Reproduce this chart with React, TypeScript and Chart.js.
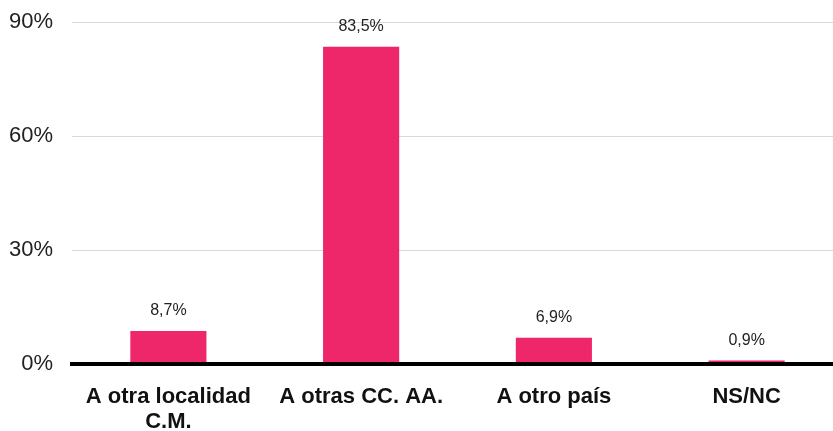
import React, { useEffect, useRef } from "react";
import { Chart, registerables } from "chart.js";

Chart.register(...registerables);

const categories: (string | string[])[] = [["A otra localidad", "C.M."], "A otras CC. AA.", "A otro país", "NS/NC"];
const values: number[] = [8.7, 83.5, 6.9, 0.9];
const yTicks: number[] = [0, 30, 60, 90];

const FONT = "'Liberation Sans', Arial, Helvetica, sans-serif";

const labelPlugin = {
  id: "barLabels",
  afterDatasetsDraw(chart: any) {
    const ctx = chart.ctx;
    const meta = chart.getDatasetMeta(0);
    ctx.save();
    ctx.font = `16px ${FONT}`;
    ctx.fillStyle = "#222";
    ctx.textAlign = "center";
    ctx.textBaseline = "bottom";
    meta.data.forEach((bar: any, i: number) => {
      const txt = values[i].toFixed(1).replace(".", ",") + "%";
      ctx.fillText(txt, bar.x, bar.y - 12);
    });
    ctx.restore();
  },
};

export default function App() {
  const ref = useRef<HTMLCanvasElement>(null);
  useEffect(() => {
    if (!ref.current) return;
    const chart = new Chart(ref.current, {
      type: "bar",
      data: {
        labels: categories,
        datasets: [
          {
            data: values,
            backgroundColor: "#EE276B",
            borderWidth: 0,
            categoryPercentage: 1,
            barPercentage: 0.395,
          },
        ],
      },
      options: {
        animation: false,
        responsive: false,
        maintainAspectRatio: false,
        layout: { padding: { top: 22, right: 0, left: 0, bottom: 0 } },
        plugins: { legend: { display: false }, tooltip: { enabled: false } },
        scales: {
          x: {
            grid: { display: false, drawTicks: false },
            border: { display: true, color: "#000", width: 4, z: 1 },
            ticks: {
              font: { family: FONT, size: 22, weight: "bold", lineHeight: 1.14 },
              color: "#111",
              padding: 20,
              maxRotation: 0,
              autoSkip: false,
            },
            afterFit: (s: any) => {
              s.height = 431 - 364;
            },
          },
          y: {
            min: 0,
            max: 90,
            afterBuildTicks: (s: any) => {
              s.ticks = yTicks.map((v) => ({ value: v }));
            },
            grid: { color: "#d9d9d9", lineWidth: 1, drawTicks: true, tickLength: 19, tickColor: "rgba(0,0,0,0)" },
            border: { display: false },
            ticks: {
              font: { family: FONT, size: 22 },
              color: "#222",
              padding: 0,
              callback: (v: any) => v + "%",
            },
            afterFit: (s: any) => {
              s.width = 72;
            },
          },
        },
      },
      plugins: [labelPlugin],
    });
    return () => chart.destroy();
  }, []);
  return (
    <div style={{ position: "fixed", left: 0, top: 0, width: 833, height: 431, overflow: "hidden", background: "#fff" }}>
      <canvas ref={ref} width={843} height={431} style={{ display: "block", width: 843, height: 431 }} />
    </div>
  );
}
